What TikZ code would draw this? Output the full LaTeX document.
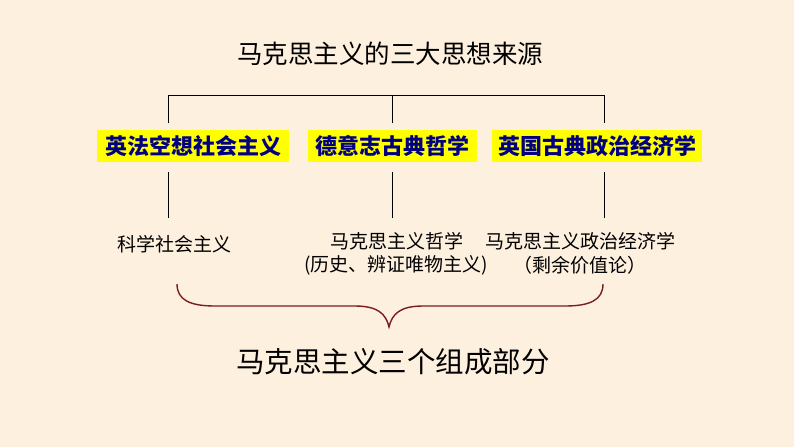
\documentclass[tikz,border=0pt]{standalone}
\usepackage{fontspec}
\newfontfamily\cjk{Noto Sans CJK SC}
\definecolor{bgcream}{RGB}{253,240,223}
\definecolor{boxyellow}{RGB}{255,255,0}
\definecolor{boxnavy}{RGB}{0,0,128}
\definecolor{bracered}{RGB}{120,30,30}
\tikzset{
  srcbox/.style={fill=boxyellow, text=boxnavy, inner sep=0pt, minimum height=32pt,
    font=\cjk\bfseries\fontsize{22}{24}\selectfont},
  parttext/.style={inner sep=0pt, font=\cjk\fontsize{19}{21}\selectfont, text=black},
  connector/.style={draw=black, line width=0.9pt},
  bracepath/.style={draw=bracered, line width=1.4pt}
}
\begin{document}
\begin{tikzpicture}[x=1pt,y=-1pt]
\fill[bgcream] (0,0) rectangle (794,447);
\useasboundingbox (0,0) rectangle (794,447);
% title
\node[inner sep=0pt, font=\cjk\fontsize{25.5}{27}\selectfont] (title) at (390,54) {马克思主义的三大思想来源};
% source boxes
\node[srcbox, minimum width=192pt] (b1) at (193,146) {英法空想社会主义};
\node[srcbox, minimum width=169pt] (b2) at (392.5,146) {德意志古典哲学};
\node[srcbox, minimum width=210pt] (b3) at (597,146) {英国古典政治经济学};
% connector coordinates
\coordinate (h1) at (168,95);
\coordinate (h2) at (392,95);
\coordinate (h3) at (604,95);
\coordinate (u1) at (168,123);
\coordinate (u2) at (392,123);
\coordinate (u3) at (604,123);
\coordinate (d1) at (168,172);
\coordinate (d2) at (392,172);
\coordinate (d3) at (604,172);
\coordinate (e1) at (168,218);
\coordinate (e2) at (392,218);
\coordinate (e3) at (604,218);
\draw[connector] (u1) -- (h1) -- (h3) -- (u3);
\draw[connector] (h2) -- (u2);
\draw[connector] (d1) -- (e1);
\draw[connector] (d2) -- (e2);
\draw[connector] (d3) -- (e3);
% component texts
\node[parttext] (p1) at (174,244) {科学社会主义};
\node[parttext] (p2) at (397,241) {马克思主义哲学};
\node[parttext] (p3) at (580,241) {马克思主义政治经济学};
\node[parttext] (p2b) at (396,265) {(历史、辨证唯物主义)};
\node[parttext] (p3b) at (580,265) {（剩余价值论）};
% brace
\coordinate (bl) at (177,284);
\coordinate (bt) at (389,327);
\coordinate (br) at (603,284);
\draw[bracepath] (bl) .. controls (177,300) and (190,306) .. (215,306)
  -- (355,306) .. controls (378,306) and (386,314) .. (bt)
  .. controls (392,314) and (400,306) .. (423,306)
  -- (565,306) .. controls (590,306) and (603,300) .. (br);
% bottom title
\node[inner sep=0pt, font=\cjk\fontsize{28.5}{30}\selectfont] (comp) at (393,362) {马克思主义三个组成部分};
\end{tikzpicture}
\end{document}
